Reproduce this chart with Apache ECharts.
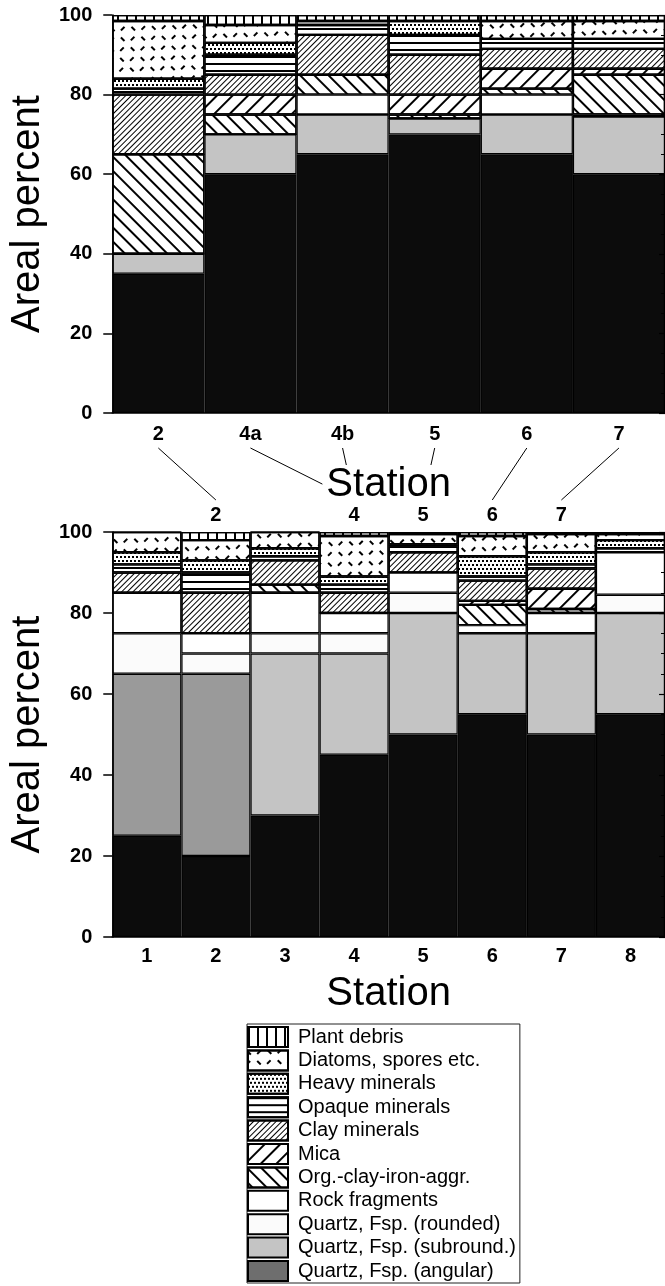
<!DOCTYPE html>
<html>
<head>
<meta charset="utf-8">
<script src="https://cdn.jsdelivr.net/npm/echarts@6/dist/echarts.min.js"></script>
<style>
html,body{margin:0;padding:0;background:#fff;}
#c{width:665px;height:1286px;}
</style>
</head>
<body>
<div id="c"></div>
<script>
// ---------- categories ----------
const topStations = ['2', '4a', '4b', '5', '6', '7'];
const bottomStations = ['1', '2', '3', '4', '5', '6', '7', '8'];
const yTicks = [0, 20, 40, 60, 80, 100];
// legend order (top to bottom); stacking order is the reverse
const components = [
  'Plant debris', 'Diatoms, spores etc.', 'Heavy minerals', 'Opaque minerals',
  'Clay minerals', 'Mica', 'Org.-clay-iron-aggr.', 'Rock fragments',
  'Quartz, Fsp. (rounded)', 'Quartz, Fsp. (subround.)', 'Quartz, Fsp. (angular)'
];
// links between upper-panel stations and lower-panel stations
const stationLinks = [['2', '2'], ['4a', '4'], ['4b', '4'], ['5', '5'], ['6', '6'], ['7', '7']];

// ---------- upper panel values (areal %) ----------
const topAngular  = [35, 60, 65, 70, 65, 60];
const topSubround = [5, 10, 10, 4, 10, 14.5];
const topRounded  = [0, 0, 0, 0, 0, 0];
const topRock     = [0, 0, 5, 0, 5, 0.5];
const topOrg      = [25, 5, 5, 1, 1.5, 10];
const topMica     = [0, 5, 0, 5, 5, 1.5];
const topClay     = [15, 5, 10, 10, 5, 5];
const topOpaque   = [1.5, 5, 2.5, 5, 2.5, 2.5];
const topHeavy    = [2.5, 3, 1, 3.5, 0, 0];
const topDiatoms  = [14.5, 4.5, 0, 0, 4.5, 4.5];
const topPlant    = [1.5, 2.5, 1.5, 1.5, 1.5, 1.5];

// ---------- lower panel values (areal %) ----------
const botAngular  = [25, 20, 30, 45, 50, 55, 50, 55];
const botSubround = [40, 45, 40, 25, 30, 20, 25, 25];
const botRounded  = [10, 5, 5, 5, 5, 0, 0, 4.5];
const botRock     = [10, 5, 10, 5, 5, 2, 5, 10.5];
const botOrg      = [0, 0, 2, 0, 0, 5, 1, 0];
const botMica     = [0, 0, 0, 0, 0, 1, 5, 0];
const botClay     = [5, 10, 6, 5, 5, 5, 5, 0];
const botOpaque   = [2, 5, 1, 2, 1.5, 1, 1, 1];
const botHeavy    = [3, 3, 2, 2, 0.5, 5, 3, 2];
const botDiatoms  = [5, 5, 4, 10, 2.5, 5, 4.5, 1.5];
const botPlant    = [0, 2, 0, 1, 0.5, 1, 0.5, 0.5];
// lower-panel stations whose sub-rounded grains print darker
const darkSubroundStations = ['1', '2'];

const topValues = {
  'Plant debris': topPlant, 'Diatoms, spores etc.': topDiatoms, 'Heavy minerals': topHeavy,
  'Opaque minerals': topOpaque, 'Clay minerals': topClay, 'Mica': topMica,
  'Org.-clay-iron-aggr.': topOrg, 'Rock fragments': topRock,
  'Quartz, Fsp. (rounded)': topRounded, 'Quartz, Fsp. (subround.)': topSubround,
  'Quartz, Fsp. (angular)': topAngular
};
const botValues = {
  'Plant debris': botPlant, 'Diatoms, spores etc.': botDiatoms, 'Heavy minerals': botHeavy,
  'Opaque minerals': botOpaque, 'Clay minerals': botClay, 'Mica': botMica,
  'Org.-clay-iron-aggr.': botOrg, 'Rock fragments': botRock,
  'Quartz, Fsp. (rounded)': botRounded, 'Quartz, Fsp. (subround.)': botSubround,
  'Quartz, Fsp. (angular)': botAngular
};

// ---------- styles ----------
const FONT = 'Liberation Sans, Arial, Helvetica, sans-serif';
const fills = {
  'Plant debris': '#ffffff', 'Diatoms, spores etc.': '#ffffff', 'Heavy minerals': '#ffffff',
  'Opaque minerals': '#ffffff', 'Clay minerals': '#ffffff', 'Mica': '#ffffff',
  'Org.-clay-iron-aggr.': '#ffffff', 'Rock fragments': '#ffffff',
  'Quartz, Fsp. (rounded)': '#fbfbfb', 'Quartz, Fsp. (subround.)': '#c4c4c4',
  'Quartz, Fsp. (angular)': '#0c0c0c'
};
const decals = {
  'Plant debris': {symbol: 'rect', symbolSize: 1, dashArrayX: [1.6, 6.4], dashArrayY: [1, 0], color: '#000'},
  'Diatoms, spores etc.': {symbol: 'rect', symbolSize: 1, rotation: Math.PI / 4,
    dashArrayX: [[4.2, 8.8], [0, 8, 1.2, 3.8]], dashArrayY: [1.2, 4, 4.2, 3.6], color: '#000'},
  'Heavy minerals': {symbol: 'rect', symbolSize: 1, dashArrayX: [[2, 2], [0, 2, 2, 0]], dashArrayY: [2, 1.3], color: '#000'},
  'Opaque minerals': {symbol: 'rect', symbolSize: 1, dashArrayX: [1, 0], dashArrayY: [1.8, 5], color: '#000'},
  'Clay minerals': {symbol: 'rect', symbolSize: 1, dashArrayX: [1, 0], dashArrayY: [1, 2.6], rotation: -Math.PI / 4, color: '#000'},
  'Mica': {symbol: 'rect', symbolSize: 1, dashArrayX: [1, 0], dashArrayY: [1.1, 8.5], rotation: -Math.PI / 4, color: '#000'},
  'Org.-clay-iron-aggr.': {symbol: 'rect', symbolSize: 1, dashArrayX: [1, 0], dashArrayY: [1.1, 7.5], rotation: Math.PI / 4, color: '#000'}
};

const chart = echarts.init(document.getElementById('c'), null, {renderer: 'canvas'});

const stackOrder = components.slice().reverse();
const series = [];
stackOrder.forEach(name => {
  const itemStyle = {color: fills[name], borderColor: '#000', borderWidth: 1.2};
  if (decals[name]) itemStyle.decal = decals[name];
  const base = {
    name, type: 'bar', barCategoryGap: '0%', itemStyle,
    emphasis: {disabled: true}
  };
  series.push(Object.assign({}, base, {
    xAxisIndex: 0, yAxisIndex: 0, stack: 'upper', data: topValues[name].slice()
  }));
  series.push(Object.assign({}, base, {
    xAxisIndex: 1, yAxisIndex: 1, stack: 'lower',
    data: botValues[name].map((v, i) => {
      if (name === 'Quartz, Fsp. (subround.)' && darkSubroundStations.includes(bottomStations[i])) {
        return {value: v, itemStyle: {color: '#9a9a9a'}};
      }
      return v;
    })
  }));
});

const linkedBottom = stationLinks.map(l => l[1]);

const boldLabel = {color: '#000', fontSize: 20, fontWeight: 'bold', fontFamily: FONT};
const nameStyle = {color: '#000', fontSize: 40, fontFamily: FONT};

function yAxisMain(gridIndex) {
  return {
    type: 'value', gridIndex, min: 0, max: 100, interval: 20, z: 10,
    name: 'Areal percent', nameLocation: 'middle', nameGap: 47, nameTextStyle: nameStyle,
    axisLine: {show: true, lineStyle: {color: '#000', width: 1.6}},
    axisTick: {show: true, length: 9, lineStyle: {color: '#000', width: 1.5}},
    axisLabel: Object.assign({margin: 20, formatter: v => yTicks.includes(v) ? String(v) : ''}, boldLabel),
    splitLine: {show: false}
  };
}
function yAxisInner(gridIndex) {
  return {
    type: 'value', gridIndex, min: 0, max: 100, interval: 20, z: 10,
    axisLine: {show: false},
    axisTick: {show: true, inside: true, length: 6, lineStyle: {color: '#000', width: 1.2}},
    minorTick: {show: true, splitNumber: 4, length: 4, lineStyle: {color: '#000', width: 1}},
    axisLabel: {show: false}, splitLine: {show: false}
  };
}

const option = {
  backgroundColor: '#fff',
  animation: false,
  grid: [
    {left: 112, top: 15, width: 558, height: 398},
    {left: 110, top: 532, width: 556, height: 405}
  ],
  xAxis: [
    {
      type: 'category', gridIndex: 0, data: topStations, z: 10,
      name: 'Station', nameLocation: 'middle', nameGap: 52,
      nameTextStyle: Object.assign({backgroundColor: '#fff', padding: [0, 4, 0, 4]}, nameStyle),
      axisLine: {lineStyle: {color: '#000', width: 1.6}},
      axisTick: {length: 9, lineStyle: {color: '#000', width: 1.5}},
      axisLabel: Object.assign({margin: 11, interval: 0}, boldLabel)
    },
    {
      type: 'category', gridIndex: 1, data: bottomStations, z: 10,
      name: 'Station', nameLocation: 'middle', nameGap: 37, nameTextStyle: nameStyle,
      axisLine: {lineStyle: {color: '#000', width: 1.6}},
      axisTick: {length: 9, lineStyle: {color: '#000', width: 1.5}},
      axisLabel: Object.assign({margin: 9, interval: 0}, boldLabel)
    },
    {
      type: 'category', gridIndex: 1, data: bottomStations, position: 'top', z: 10,
      axisLine: {show: false}, axisTick: {show: false},
      axisLabel: Object.assign({margin: 7, interval: 0, formatter: v => linkedBottom.includes(v) ? v : ''}, boldLabel)
    }
  ],
  yAxis: [yAxisMain(0), yAxisMain(1), yAxisInner(0), yAxisInner(1)],
  legend: {
    orient: 'vertical', left: 247, top: 1024, height: 320,
    icon: 'rect',
    itemWidth: 40, itemHeight: 20, itemGap: 1.4,
    padding: [2, 4, 1, 0],
    borderColor: '#222', borderWidth: 1,
    selectedMode: false,
    textStyle: {color: '#000', fontSize: 20, fontFamily: FONT, padding: [0, 0, 0, 5]},
    data: components.map(name => name === 'Quartz, Fsp. (angular)'
      ? {name, itemStyle: {color: '#6e6e6e'}}
      : {name})
  },
  series
};
chart.setOption(option);

// connecting lines between the two panels, placed through the axes
const topAxisY = chart.convertToPixel({yAxisIndex: 0}, 0);
const botTopY = chart.convertToPixel({yAxisIndex: 1}, 100);
const lines = stationLinks.map(([a, b]) => {
  const x1 = chart.convertToPixel({xAxisIndex: 0}, a);
  const x2 = chart.convertToPixel({xAxisIndex: 1}, b);
  return {
    type: 'line', z: -5, silent: true,
    shape: {x1, y1: topAxisY + 35, x2, y2: botTopY - 32},
    style: {stroke: '#000', lineWidth: 1}
  };
});
chart.setOption({graphic: {elements: lines}});
</script>
</body>
</html>
